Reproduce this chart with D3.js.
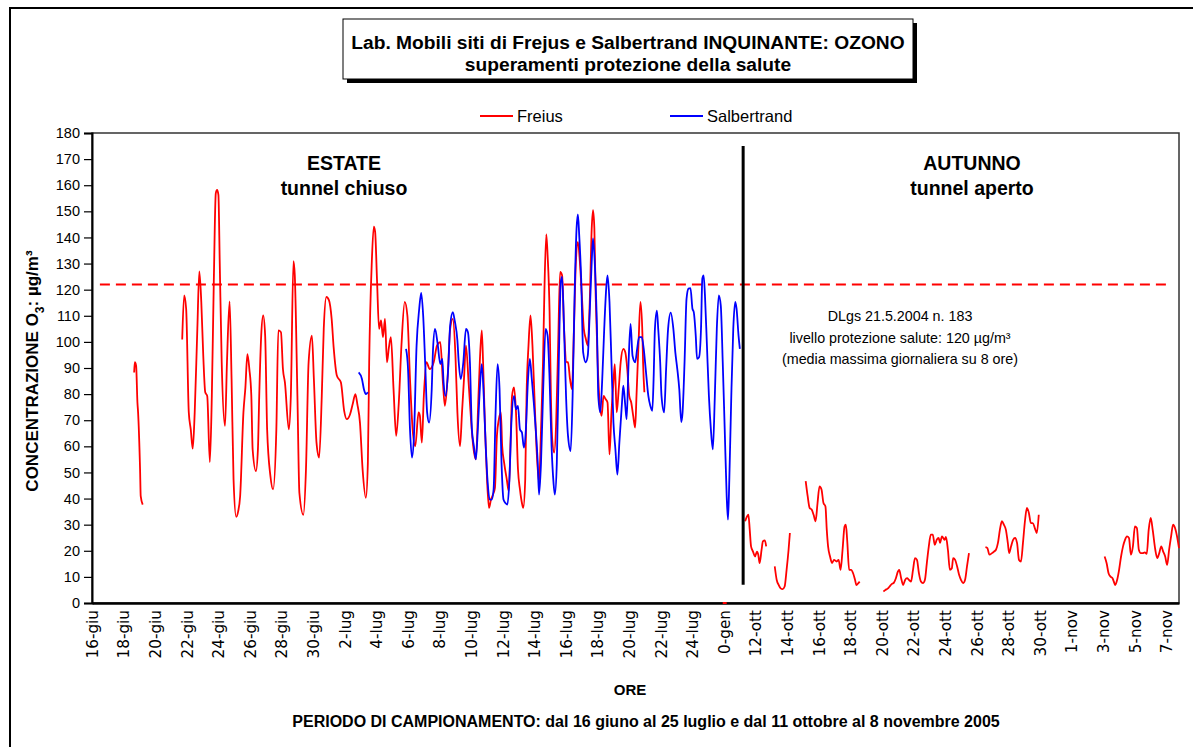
<!DOCTYPE html>
<html>
<head>
<meta charset="utf-8">
<script src="https://cdn.jsdelivr.net/npm/d3@7"></script>
<style>
  body { margin: 0; background: #fff; }
  text { font-family: 'Liberation Sans', Arial, sans-serif; fill: #000; }
</style>
</head>
<body>
<main></main>
<script>
// x = hour of the sampling sequence (one category per hour), y = O3 in µg/m³; null breaks the line
const tickLabels = ['16-giu', '18-giu', '20-giu', '22-giu', '24-giu', '26-giu', '28-giu', '30-giu',
    '2-lug', '4-lug', '6-lug', '8-lug', '10-lug', '12-lug', '14-lug', '16-lug', '18-lug', '20-lug',
    '22-lug', '24-lug', '0-gen', '12-ott', '14-ott', '16-ott', '18-ott', '20-ott', '22-ott', '24-ott',
    '26-ott', '28-ott', '30-ott', '1-nov', '3-nov', '5-nov', '7-nov'];
const totalHours = 1651;
const limit = 122;
const divider = { hour: 989, from: 7, to: 175 };

const freius = [
    [64, 88.3], [65, 92.2], [67, 90.9], [69, 76.8], [70, 73], [73, 51.2], [74, 40.9], [77, 37.7], null,
    [137, 100.9], [140, 117.8], [143, 112.7], [147, 73], [150, 66.5], [153, 59.1], [156, 73], [160, 105],
    [163, 127], [166, 115.3], [169, 94.7], [172, 80.7], [175, 79.3], [179, 54], [182, 79.3], [185, 123],
    [188, 156.9], [190, 158.2], [192, 156.3], [194, 130.7], [197, 92.2], [202, 67.8], [205, 92.2],
    [209, 115.5], [212, 85.8], [215, 47.3], [219, 33], [222, 35.1], [225, 40.9], [230, 73], [233, 82.6],
    [236, 95.3], [239, 89.6], [242, 79.3], [244, 58.8], [249, 50.5], [252, 58.8], [254, 79.3], [257, 102.4],
    [260, 110.1], [263, 102.4], [266, 66.5], [271, 48.6], [275, 43.5], [280, 66.5], [283, 104.4],
    [287, 103.7], [290, 89.6], [293, 84.5], [299, 66.5], [302, 79.3], [306, 130.9], [308, 125.5],
    [312, 79.3], [315, 42.2], [321, 33.8], [325, 51.2], [329, 92.2], [334, 102.4], [337, 85.8], [341, 61.4],
    [345, 55.7], [349, 79.3], [352, 105], [356, 117.2], [360, 115.9], [364, 108.8], [367, 98], [372, 87],
    [378, 84.5], [383, 73.6], [387, 70.4], [392, 72.3], [396, 76.2], [400, 80], [403, 76.2], [407, 69.1],
    [411, 51.2], [416, 40.3], [419, 53.7], [421, 92.2], [425, 130.7], [428, 144.1], [430, 142.2],
    [433, 123], [436, 105], [439, 108.2], [442, 101.8], [445, 108.8], [448, 92.2], [451, 98], [454, 101.8],
    [458, 81.9], [462, 64], [466, 76.8], [470, 98.6], [475, 115.3], [479, 110.1], [483, 85.8], [487, 66.5],
    [491, 60.1], [496, 73], [498, 71.7], [501, 61.4], [504, 79.3], [508, 92.2], [513, 89.6], [519, 92.2],
    [524, 98.6], [529, 99.9], [533, 84.5], [536, 75.5], [540, 85.8], [544, 105], [548, 108.8], [552, 95],
    [555, 73], [559, 60.1], [562, 73], [565, 85.8], [568, 98.6], [572, 84.5], [576, 69.1], [579, 60.1],
    [583, 55], [587, 79.3], [589, 92.2], [592, 104.4], [594, 92.2], [597, 66.5], [600, 47.3], [603, 36.4],
    [606, 39.6], [609, 41.5], [612, 44.1], [615, 64], [618, 70.4], [621, 73], [623, 60.1], [626, 53.7],
    [630, 47.3], [633, 42.8], [636, 64], [638, 79.3], [641, 82.6], [644, 73], [647, 51.2], [650, 43.5],
    [653, 38.3], [655, 36.4], [658, 47.3], [660, 79.3], [663, 98.6], [666, 110.1], [669, 98.6], [672, 79.3],
    [675, 60.1], [679, 46], [682, 66.5], [685, 92.2], [687, 117.8], [690, 141.2], [692, 133.2], [695, 111.4],
    [697, 79.3], [699, 62.7], [702, 57.6], [705, 69.1], [708, 98.6], [711, 126.8], [714, 125.5], [717, 105],
    [721, 92.2], [723, 92.2], [726, 85.8], [729, 81.9], [732, 105], [735, 130.7], [738, 138.3], [741, 130.7],
    [744, 117.8], [747, 105], [750, 101.2], [753, 98.6], [756, 115.3], [759, 143.5], [761, 150.5],
    [763, 143.5], [765, 117.8], [768, 92.2], [771, 76.8], [774, 71.7], [777, 79.3], [780, 78.1], [783, 76.8],
    [786, 56.9], [789, 73], [792, 84.5], [794, 91.5], [797, 73], [800, 81.9], [803, 92.2], [807, 97.3],
    [810, 96], [813, 89.6], [816, 79.3], [819, 76.8], [822, 71.7], [825, 67.2], [827, 79.3], [830, 98.6],
    [833, 115.3], [836, 103], [837, 92.2], [839, 80.7], null,
    [958, 0], [964, 0], null,
    [992, 31.3], [995, 33.2], [997, 33.8], [999, 28.1], [1001, 21.7], [1004, 19.7], [1007, 17.8],
    [1010, 19.7], [1012, 18.5], [1014, 15.3], [1017, 20.4], [1019, 23.6], [1022, 24], [1024, 21.7], null,
    [1037, 14], [1040, 8.8], [1043, 6.9], [1046, 5.6], [1049, 5.3], [1052, 6.3], [1055, 12.7], [1058, 20.4],
    [1060, 26.8], null,
    [1084, 46.7], [1087, 40.9], [1090, 36.4], [1093, 35.8], [1096, 33.8], [1099, 31.3], [1102, 38.3],
    [1105, 44.7], [1108, 43.5], [1111, 38.3], [1114, 37], [1116, 28.1], [1118, 21.7], [1121, 17.8],
    [1124, 15.3], [1127, 16.5], [1131, 15.9], [1134, 16.5], [1137, 12.7], [1140, 20.4], [1143, 29.3],
    [1145, 30], [1147, 24.2], [1150, 12.7], [1153, 12.7], [1156, 11.4], [1159, 8.8], [1161, 6.9],
    [1164, 7.6], [1166, 8.2], null,
    [1202, 4.4], [1205, 5], [1209, 5.6], [1212, 6.5], [1215, 7.3], [1218, 7.8], [1221, 9.5], [1224, 12],
    [1226, 12.7], [1229, 9.5], [1232, 6.9], [1235, 8.8], [1238, 9.5], [1241, 8.8], [1244, 8.2], [1247, 12.7],
    [1250, 17.2], [1253, 16.5], [1256, 11.4], [1259, 8.2], [1262, 7.6], [1265, 8.8], [1268, 15.3],
    [1271, 21.7], [1274, 26.2], [1277, 26.2], [1280, 22.3], [1283, 24.2], [1286, 24.9], [1288, 23],
    [1291, 25.5], [1295, 24.2], [1297, 25.3], [1300, 20.4], [1303, 12.7], [1306, 13.3], [1308, 17.2],
    [1311, 16.5], [1314, 14], [1317, 10.8], [1320, 8.8], [1323, 7.6], [1326, 8.8], [1329, 14], [1332, 19.1], null,
    [1357, 21.4], [1360, 21], [1363, 18.5], [1367, 19.1], [1370, 19.7], [1373, 20.4], [1376, 23],
    [1379, 28.1], [1382, 31.3], [1385, 30], [1388, 28.1], [1391, 23], [1393, 19.1], [1396, 21.7],
    [1399, 24.2], [1402, 24.9], [1405, 23], [1408, 16.5], [1411, 15.9], [1414, 23], [1417, 31.3],
    [1420, 36.4], [1423, 34.5], [1426, 30.6], [1429, 30.6], [1432, 28.7], [1435, 26.8], [1438, 33.8], null,
    [1538, 17.8], [1541, 15.3], [1544, 11.4], [1547, 10.1], [1550, 9.5], [1552, 8.2], [1554, 6.9],
    [1557, 8.8], [1560, 12.7], [1563, 17.8], [1566, 21.7], [1569, 24.2], [1572, 25.5], [1575, 24.9],
    [1578, 18.5], [1581, 21.7], [1584, 29.3], [1587, 28.7], [1590, 20.4], [1593, 19.1], [1596, 19.1],
    [1599, 19.4], [1602, 18.8], [1605, 28.1], [1608, 32.6], [1611, 28.1], [1615, 20.4], [1618, 17.2],
    [1621, 19.1], [1624, 21.7], [1627, 19.7], [1630, 17.8], [1633, 14.6], [1636, 20.4], [1639, 25.5],
    [1642, 30], [1645, 28.7], [1648, 25.5], [1651, 21]
];

const salbertrand = [
    [405, 88.3], [410, 85.8], [413, 81.9], [416, 80], [419, 80.7], null,
    [477, 97.3], [480, 89.6], [483, 66.5], [486, 55.7], [489, 64], [493, 98.6], [497, 112.7], [500, 118.8],
    [503, 110.1], [506, 92.2], [509, 73], [512, 69.1], [516, 81.9], [518, 97.3], [521, 105], [525, 99.2],
    [529, 91.5], [532, 93.5], [534, 84.5], [537, 79.3], [541, 89.6], [544, 106.3], [548, 111.4], [551, 108],
    [555, 100.5], [557, 92.2], [560, 85.8], [564, 92.2], [568, 105], [571, 103.7], [574, 92.2], [577, 66.5],
    [580, 60.1], [583, 55], [586, 66.5], [589, 81.9], [592, 91.5], [595, 79.3], [598, 60.1], [601, 46],
    [604, 39.6], [607, 39.6], [610, 43.5], [613, 73], [616, 91.5], [619, 81.9], [622, 53.7], [625, 39.6],
    [628, 38.3], [631, 37.7], [634, 47.3], [637, 69.1], [641, 79.3], [644, 74.2], [647, 75.5], [650, 66.5],
    [653, 65.3], [656, 59.5], [659, 66.5], [662, 84.5], [665, 93.5], [668, 85.8], [671, 76.8], [674, 66.5],
    [677, 53.7], [679, 41.5], [682, 53.7], [685, 79.3], [689, 105], [692, 102.4], [695, 85.8], [698, 60.1],
    [701, 46], [703, 41.5], [706, 53.7], [709, 92.2], [712, 123], [714, 124.9], [717, 105], [720, 79.3],
    [723, 64], [727, 58.2], [730, 79.3], [733, 117.8], [736, 143.5], [738, 148.8], [740, 140.9], [743, 124.2],
    [746, 96], [750, 92.2], [753, 94.7], [756, 111.4], [759, 130.7], [761, 139.6], [764, 128.1], [767, 105],
    [769, 79.3], [772, 73], [775, 85.8], [778, 105], [781, 120.4], [783, 125.5], [786, 115.3], [789, 92.2],
    [792, 69.1], [795, 58.8], [798, 49.2], [801, 61.4], [805, 76.8], [807, 83.2], [810, 75.5], [812, 70.4],
    [815, 92.2], [818, 106.9], [821, 94.7], [825, 92.2], [828, 97.3], [831, 101.8], [835, 101.8], [838, 97.3],
    [841, 89.6], [845, 79.3], [848, 75.5], [851, 73.6], [853, 85.8], [855, 105], [858, 112], [860, 105],
    [863, 92.2], [865, 79.3], [869, 73], [872, 89.6], [875, 105], [879, 111.2], [883, 105], [886, 96],
    [889, 89.6], [892, 81.9], [895, 69.3], [897, 73], [900, 92.2], [903, 116.5], [906, 120.4], [909, 120.6],
    [912, 112.7], [914, 111.4], [917, 102.4], [919, 93.5], [922, 94.1], [925, 105], [927, 124.2], [929, 125.5],
    [931, 117.8], [934, 98.6], [937, 79.3], [940, 66.5], [943, 58.8], [946, 79.3], [949, 105], [952, 117.8],
    [955, 114], [958, 92.2], [961, 66.5], [964, 40.9], [966, 31.9], [968, 47.3], [971, 79.3], [974, 105],
    [977, 115.3], [979, 112.7], [982, 102.4], [984, 97.3]
];

const w = 1193;
const h = 747;
const svg = d3.select('main').append('svg').attr('width', w).attr('height', h);
svg.append('rect').attr('width', w).attr('height', h).attr('fill', '#fff');

// outer frame (runs off the right and bottom edges)
svg.append('rect').attr('x', 10).attr('y', 8).attr('width', 1200).attr('height', 760)
    .attr('fill', 'none').attr('stroke', '#000').attr('stroke-width', 2);

const x = d3.scaleLinear().domain([0, totalHours]).range([92, 1179]);
const y = d3.scaleLinear().domain([0, 180]).range([603, 133]);

// plot frame
svg.append('rect').attr('x', 92).attr('y', 133).attr('width', 1087).attr('height', 470)
    .attr('fill', 'none').attr('stroke', '#333').attr('stroke-width', 1.5);

// title box with shadow
svg.append('rect').attr('x', 347).attr('y', 23).attr('width', 570).attr('height', 60).attr('fill', '#000');
svg.append('rect').attr('x', 343).attr('y', 19).attr('width', 570).attr('height', 60)
    .attr('fill', '#fff').attr('stroke', '#000').attr('stroke-width', 1);
svg.append('text').attr('x', 628).attr('y', 49).attr('text-anchor', 'middle')
    .style('font-size', '19.2px').style('font-weight', 'bold')
    .text('Lab. Mobili siti di Frejus e Salbertrand INQUINANTE: OZONO');
svg.append('text').attr('x', 628).attr('y', 71).attr('text-anchor', 'middle')
    .style('font-size', '19.2px').style('font-weight', 'bold')
    .text('superamenti protezione della salute');

// legend
const legendItems = [
    { name: 'Freius', color: '#ff0000', x: 480 },
    { name: 'Salbertrand', color: '#0000ff', x: 670 }
];
const legend = svg.selectAll('g.legend').data(legendItems).enter().append('g')
    .attr('class', 'legend').attr('transform', d => `translate(${d.x},116)`);
legend.append('line').attr('x1', 0).attr('x2', 33).attr('stroke', d => d.color).attr('stroke-width', 2);
legend.append('text').attr('x', 37).attr('y', 6).style('font-size', '16.5px').text(d => d.name);

// y axis
const yAxis = svg.append('g').attr('transform', 'translate(92,0)')
    .call(d3.axisLeft(y).tickValues(d3.range(0, 181, 10)).tickSize(8).tickPadding(4));
yAxis.select('.domain').attr('stroke-width', 2);
yAxis.selectAll('.tick line').attr('stroke-width', 1.2);
yAxis.selectAll('text').style('font-size', '14.5px').style('font-family', "'Liberation Sans', Arial, sans-serif");

// x axis
const xAxis = svg.append('g').attr('transform', 'translate(0,603)')
    .call(d3.axisBottom(x).tickValues(tickLabels.map((d, i) => i * 48))
        .tickFormat((d, i) => tickLabels[i]).tickSize(0));
xAxis.select('.domain').attr('stroke-width', 2.5);
xAxis.selectAll('text')
    .attr('transform', 'rotate(-90) scale(1.13,1)')
    .attr('x', -7 / 1.13).attr('y', 0).attr('dy', '0.35em')
    .style('text-anchor', 'end')
    .style('font-size', '15px')
    .style('font-family', "'Liberation Sans Narrow', 'DejaVu Sans Condensed', sans-serif");

// axis titles
const yTitle = svg.append('text').attr('transform', 'translate(38,371) rotate(-90)')
    .attr('text-anchor', 'middle').style('font-size', '17px').style('font-weight', 'bold');
yTitle.append('tspan').text('CONCENTRAZIONE O');
yTitle.append('tspan').attr('dy', 6).style('font-size', '12px').text('3');
yTitle.append('tspan').attr('dy', -6).text(': µg/m³');

svg.append('text').attr('x', 630).attr('y', 695).attr('text-anchor', 'middle')
    .style('font-size', '15px').style('font-weight', 'bold').text('ORE');
svg.append('text').attr('x', 646).attr('y', 727).attr('text-anchor', 'middle')
    .style('font-size', '16px').style('font-weight', 'bold')
    .text('PERIODO DI CAMPIONAMENTO: dal 16 giuno al 25 luglio e dal 11 ottobre al 8 novembre 2005');

// season labels
const seasons = [
    { title: 'ESTATE', sub: 'tunnel chiuso', x: 344 },
    { title: 'AUTUNNO', sub: 'tunnel aperto', x: 972 }
];
seasons.forEach(s => {
    svg.append('text').attr('x', s.x).attr('y', 170).attr('text-anchor', 'middle')
        .style('font-size', '19.5px').style('font-weight', 'bold').text(s.title);
    svg.append('text').attr('x', s.x).attr('y', 195).attr('text-anchor', 'middle')
        .style('font-size', '19.5px').style('font-weight', 'bold').text(s.sub);
});

// note on the limit
const note = ['DLgs 21.5.2004 n. 183', 'livello protezione salute: 120 µg/m³', '(media massima giornaliera su 8 ore)'];
svg.selectAll('text.note').data(note).enter().append('text').attr('class', 'note')
    .attr('x', 900).attr('y', (d, i) => 321 + i * 21.5).attr('text-anchor', 'middle')
    .style('font-size', '14.3px').text(d => d);

// limit line
svg.append('line').attr('x1', x(12)).attr('x2', x(1637)).attr('y1', y(limit)).attr('y2', y(limit))
    .attr('stroke', '#ff0000').attr('stroke-width', 2).attr('stroke-dasharray', '10,6');

// series
const line = d3.line().defined(d => d !== null).x(d => x(d[0])).y(d => y(d[1])).curve(d3.curveMonotoneX);
svg.append('path').datum(freius).attr('d', line).attr('fill', 'none')
    .attr('stroke', '#ff0000').attr('stroke-width', 1.8).attr('stroke-linejoin', 'round');
svg.append('path').datum(salbertrand).attr('d', line).attr('fill', 'none')
    .attr('stroke', '#0000ff').attr('stroke-width', 1.8).attr('stroke-linejoin', 'round');

// season divider
svg.append('line').attr('x1', x(divider.hour)).attr('x2', x(divider.hour))
    .attr('y1', y(divider.from)).attr('y2', y(divider.to))
    .attr('stroke', '#000').attr('stroke-width', 3);
</script>
</body>
</html>
